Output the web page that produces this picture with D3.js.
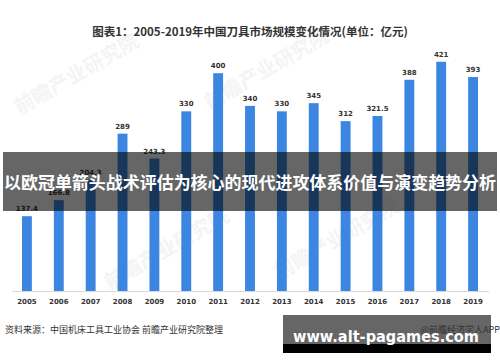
<!DOCTYPE html>
<html><head><meta charset="utf-8">
<script src="https://cdn.jsdelivr.net/npm/d3@7"></script>
<style>body{margin:0;background:#fff}svg{display:block}</style>
</head><body>
<svg id="c" width="500" height="362"></svg>
<script>
const years = ["2005","2006","2007","2008","2009","2010","2011","2012","2013","2014","2015","2016","2017","2018","2019"];
const values = [137.4,166.8,204.3,289,243.3,330,400,340,330,345,312,321.5,388,421,393];
const valueLabels = ["137.4","166.8","204.3","289","243.3","330","400","340","330","345","312","321.5","388","421","393"];
const title = "图表1：2005-2019年中国刀具市场规模变化情况(单位：亿元)";
const banner = "以欧冠单箭头战术评估为核心的现代进攻体系价值与演变趋势分析";
const source = "资料来源：中国机床工具工业协会 前瞻产业研究院整理";
const credit = "@前瞻经济学人APP";
const site = "www.alt-pagames.com";

const svg = d3.select("#c");
const font = "'Noto Sans CJK SC','Noto Sans',sans-serif";

// faint watermarks
[[80,80],[270,75],[170,255],[340,245]].forEach(([x,y])=>{
  svg.append("text").attr("x",x).attr("y",y).attr("transform",`rotate(-30,${x},${y})`)
    .attr("text-anchor","middle").attr("font-family",font).attr("font-weight","bold")
    .attr("font-size",20).attr("fill","#f4f4f4").text("前瞻产业研究院");
});

svg.append("text").attr("x",250).attr("y",36).attr("text-anchor","middle")
  .attr("font-family",font).attr("font-weight","bold").attr("font-size",11.5)
  .attr("fill","#333").text(title);

const x = d3.scaleBand().domain(years).range([11,489]).paddingInner(0.69).paddingOuter(0.345);
const y = d3.scaleLinear().domain([0,450]).range([291,46]);

svg.append("line").attr("x1",12).attr("x2",489).attr("y1",291.5).attr("y2",291.5)
  .attr("stroke","#d9d9d9").attr("stroke-width",1);

svg.selectAll("rect.bar").data(values).join("rect").attr("class","bar")
  .attr("x",(d,i)=>x(years[i])).attr("width",x.bandwidth())
  .attr("y",d=>y(d)).attr("height",d=>y(0)-y(d)).attr("fill","#3c86e2");

svg.selectAll("text.val").data(values).join("text").attr("class","val")
  .attr("x",(d,i)=>x(years[i])+x.bandwidth()/2).attr("y",d=>y(d)-5)
  .attr("text-anchor","middle").attr("font-family","'DejaVu Sans',sans-serif").attr("font-weight","bold")
  .attr("font-size",7).attr("fill","#333").text((d,i)=>valueLabels[i]);

const xa = svg.append("g").attr("transform","translate(0,291)")
  .call(d3.axisBottom(x).tickSize(0).tickPadding(8));
xa.select(".domain").remove();
xa.selectAll("text").attr("font-family","'DejaVu Sans',sans-serif").attr("font-weight","bold")
  .attr("font-size",7).attr("fill","#333");

// banner
svg.append("rect").attr("x",3).attr("y",152).attr("width",494).attr("height",59)
  .attr("fill","rgba(0,0,0,0.6)");
svg.append("text").attr("x",250).attr("y",189).attr("text-anchor","middle")
  .attr("font-family",font).attr("font-weight","bold").attr("font-size",17)
  .attr("fill","#fff").attr("textLength",492).attr("lengthAdjust","spacingAndGlyphs").text(banner);

svg.append("text").attr("x",5).attr("y",333).attr("font-family",font)
  .attr("font-size",9).attr("fill","#333").text(source);

// site box
svg.append("rect").attr("x",283).attr("y",315).attr("width",208).attr("height",29).attr("fill","#666");
svg.append("rect").attr("x",283).attr("y",344).attr("width",208).attr("height",9).attr("fill","#000");
svg.append("text").attr("x",500).attr("y",333).attr("text-anchor","end").attr("font-family",font)
  .attr("font-size",9).attr("fill","#333").text(credit);
svg.append("text").attr("x",293).attr("y",342).attr("font-family","'DejaVu Sans',sans-serif")
  .attr("font-weight","bold").attr("font-size",15.5).attr("fill","#fff")
  .attr("textLength",186).attr("lengthAdjust","spacingAndGlyphs").text(site);
</script>
</body></html>
